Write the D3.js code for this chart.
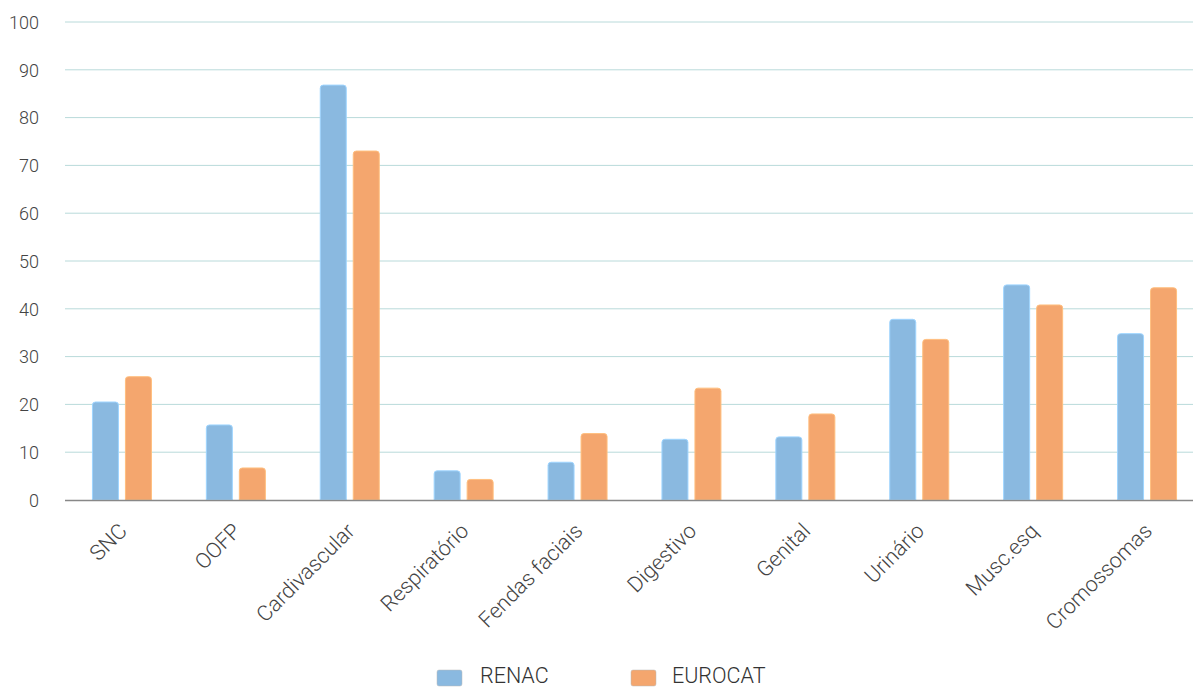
<!DOCTYPE html>
<html><head><meta charset="utf-8">
<script src="https://cdn.jsdelivr.net/npm/d3@7"></script>
<style>body{margin:0;background:#fff;} text{font-family:"Roboto","Liberation Sans","DejaVu Sans",sans-serif;font-weight:300;}</style>
</head><body>
<svg id="c" width="1193" height="689"></svg>
<script>
const categories = ["SNC","OOFP","Cardivascular","Respiratório","Fendas faciais","Digestivo","Genital","Urinário","Musc.esq","Cromossomas"];
const renac = [20.5,15.7,86.8,6.1,7.9,12.7,13.2,37.8,45.0,34.8];
const eurocat = [25.8,6.7,73.0,4.3,13.9,23.4,18.0,33.6,40.8,44.4];
const seriesNames = ["RENAC","EUROCAT"];
const colors = ["#8AB9E0","#F4A66E"];
const yTicks = [0,10,20,30,40,50,60,70,80,90,100];

const svg = d3.select("#c");
const W = 1193, H = 689;
const x = d3.scaleBand().domain(categories).range([65, 1204]).padding(0);
const y = d3.scaleLinear().domain([0,100]).range([500, 22]);

// grid
svg.append("g").selectAll("line").data(yTicks.filter(d=>d>0)).join("line")
  .attr("x1", 65).attr("x2", W).attr("y1", d=>y(d)).attr("y2", d=>y(d))
  .attr("stroke","#B9DADA").attr("stroke-width",1);

// y labels
const yAxis = d3.axisLeft(y).tickValues(yTicks).tickSize(0).tickPadding(0);
const ga = svg.append("g").attr("transform",`translate(39,0)`).call(yAxis);
ga.select(".domain").remove();
ga.selectAll("text").attr("font-size",18).attr("fill","#444").attr("dy","0.35em")
  .attr("font-family","Roboto, sans-serif").attr("font-weight",300);

// bars
const bw = 26, gap = 7;
const data = [renac, eurocat];
function roundTop(x0, y0, w, h, r){
  r = Math.min(r, h, w/2);
  return `M${x0},${y0+h}V${y0+r}Q${x0},${y0} ${x0+r},${y0}H${x0+w-r}Q${x0+w},${y0} ${x0+w},${y0+r}V${y0+h}Z`;
}
data.forEach((vals, s) => {
  svg.append("g").selectAll("path").data(vals).join("path")
    .attr("d",(d,i)=>{
      const cx = x(categories[i]) + x.bandwidth()/2;
      const x0 = cx - (2*bw+gap)/2 + s*(bw+gap);
      return roundTop(x0, y(d), bw, y(0)-y(d), 3);
    })
    .attr("fill", colors[s])
    .attr("stroke", d3.color(colors[s]).brighter(0.4))
    .attr("stroke-width",1);
});

// x axis line
svg.append("line").attr("x1",65).attr("x2",W).attr("y1",y(0)+0.5).attr("y2",y(0)+0.5)
  .attr("stroke","#888").attr("stroke-width",1.5);

// x labels
svg.append("g").selectAll("text").data(categories).join("text")
  .attr("transform", d=>`translate(${x(d)+x.bandwidth()/2+1},${y(0)+27}) rotate(-45)`)
  .attr("text-anchor","end").attr("dy","0.35em")
  .attr("font-size",21.5).attr("fill","#444").text(d=>d);

// legend
const leg = [{x:437, tx:480},{x:631, tx:672}];
seriesNames.forEach((n,i)=>{
  svg.append("rect").attr("x",leg[i].x).attr("y",670).attr("width",25).attr("height",16)
    .attr("rx",2).attr("fill",colors[i]).attr("stroke","#bbb").attr("stroke-width",0.5);
  svg.append("text").attr("x",leg[i].tx).attr("y",683)
    .attr("font-size",21.5).attr("fill","#333").text(n);
});
</script>
</body></html>
